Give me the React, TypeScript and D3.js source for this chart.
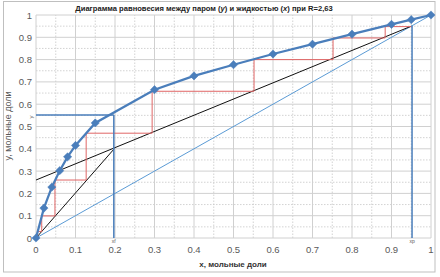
import React from "react";
import * as d3 from "d3";

const eqX = [0, 0.02, 0.04, 0.06, 0.08, 0.1, 0.15, 0.3, 0.4, 0.5, 0.6, 0.7, 0.8, 0.9, 0.95, 1];
const eqY = [0, 0.134, 0.228, 0.302, 0.364, 0.415, 0.516, 0.665, 0.727, 0.777, 0.825, 0.869, 0.914, 0.958, 0.979, 1];

const stepX = [0.95, 0.884, 0.884, 0.752, 0.752, 0.552, 0.552, 0.294, 0.294, 0.127, 0.127, 0.048, 0.048, 0.0145, 0.0145, 0.004, 0.004];
const stepY = [0.948, 0.948, 0.897, 0.897, 0.8, 0.8, 0.658, 0.658, 0.47, 0.47, 0.26, 0.26, 0.099, 0.099, 0.029, 0.029, 0];

const rectX = [0, 0.95];
const rectY = [0.26, 0.95];
const stripX = [0, 0.198];
const stripY = [0, 0.4];
const diagX = [0, 1];
const diagY = [0, 1];

const xF = 0.197;
const xP = 0.952;
const yLine = 0.552;

const xTicks = [0, 0.1, 0.2, 0.3, 0.4, 0.5, 0.6, 0.7, 0.8, 0.9, 1];
const yTicks = [0, 0.1, 0.2, 0.3, 0.4, 0.5, 0.6, 0.7, 0.8, 0.9, 1];
const minorTicks = [0.05, 0.15, 0.25, 0.35, 0.45, 0.55, 0.65, 0.75, 0.85, 0.95];

const title1 = "Диаграмма равновесия между паром (";
const titleY = "y";
const title2 = ") и жидкостью (";
const titleX = "x";
const title3 = ") при R=2,63";
const xTitle = "x, мольные доли";
const yTitle = "y, мольные доли";

export default function App() {
  const W = 440, H = 277;
  const x = d3.scaleLinear().domain([0, 1]).range([36, 431]);
  const y = d3.scaleLinear().domain([0, 1]).range([238, 15]);
  const line = d3.line<[number, number]>().x(d => x(d[0])).y(d => y(d[1]));
  const zip = (a: number[], b: number[]) => a.map((v, i) => [v, b[i]] as [number, number]);
  const blue = "#4A7EBB";
  const diamond = d3.symbol().type(d3.symbolSquare).size(34)()!;
  const font = "'Liberation Sans', Arial, sans-serif";

  return (
    <svg width={W} height={H} style={{ position: "absolute", left: 0, top: 0, background: "#fff" }}>
      <rect x={3.5} y={1.5} width={431.5} height={270.5} fill="#fff" stroke="#BFBFBF" strokeWidth={1} />
      {minorTicks.map(t => (
        <g key={"m" + t}>
          <line x1={x(t)} x2={x(t)} y1={y(0)} y2={y(1)} stroke="#C8C8C8" strokeWidth={0.8} strokeDasharray="1.5,1.5" />
          <line x1={x(0)} x2={x(1)} y1={y(t)} y2={y(t)} stroke="#C8C8C8" strokeWidth={0.8} strokeDasharray="1.5,1.5" />
        </g>
      ))}
      {xTicks.map(t => (
        <line key={"gx" + t} x1={x(t)} x2={x(t)} y1={y(0)} y2={y(1)} stroke="#D0D0D0" strokeWidth={1} />
      ))}
      {yTicks.map(t => (
        <line key={"gy" + t} x1={x(0)} x2={x(1)} y1={y(t)} y2={y(t)} stroke="#D0D0D0" strokeWidth={1} />
      ))}
      {xTicks.map(t => (
        <text key={"tx" + t} x={x(t)} y={253} textAnchor="middle" fontSize={9.5} fill="#595959" fontFamily={font}>{String(t)}</text>
      ))}
      {yTicks.map(t => (
        <text key={"ty" + t} x={32} y={y(t) + 3.5} textAnchor="end" fontSize={9.5} fill="#595959" fontFamily={font}>{String(t)}</text>
      ))}
      <path d={line(zip(diagX, diagY))!} fill="none" stroke="#5B9BD5" strokeWidth={1} />
      <path d={line(zip(rectX, rectY))!} fill="none" stroke="#111" strokeWidth={1} />
      <path d={line(zip(stripX, stripY))!} fill="none" stroke="#111" strokeWidth={1} />
      <path d={line(zip(stepX, stepY))!} fill="none" stroke="#E06666" strokeWidth={1} />
      <line x1={x(xF)} x2={x(xF)} y1={y(0)} y2={y(yLine)} stroke={blue} strokeWidth={1.5} />
      <line x1={x(xP)} x2={x(xP)} y1={y(0)} y2={y(xP)} stroke={blue} strokeWidth={1.5} />
      <line x1={x(0)} x2={x(xF)} y1={y(yLine)} y2={y(yLine)} stroke={blue} strokeWidth={1.5} />
      <path d={line(zip(eqX, eqY))!} fill="none" stroke={blue} strokeWidth={2.25} />
      {eqX.map((v, i) => (
        <path key={"d" + i} d={diamond} transform={`translate(${x(v)},${y(eqY[i])}) rotate(45)`} fill={blue} stroke={blue} strokeWidth={0.5} />
      ))}
      <text x={x(xF)} y={243} textAnchor="middle" fontSize={5} fill="#595959" fontFamily={font}>xf</text>
      <text x={x(xP)} y={243} textAnchor="middle" fontSize={5} fill="#595959" fontFamily={font}>xp</text>
      <text transform={`translate(33,${y(yLine) + 2}) rotate(-90)`} textAnchor="middle" fontSize={6} fill="#595959" fontFamily={font}>y</text>
      <text x={204} y={11} textAnchor="middle" fontSize={7.6} fontWeight="bold" fill="#222" fontFamily={font}>
        {title1}<tspan fontStyle="italic">{titleY}</tspan>{title2}<tspan fontStyle="italic">{titleX}</tspan>{title3}
      </text>
      <text x={233} y={267} textAnchor="middle" fontSize={8} fontWeight="bold" fill="#333" fontFamily={font}>{xTitle}</text>
      <text transform={`translate(11,126) rotate(-90)`} textAnchor="middle" fontSize={9} fill="#595959" fontFamily={font}>{yTitle}</text>
    </svg>
  );
}
